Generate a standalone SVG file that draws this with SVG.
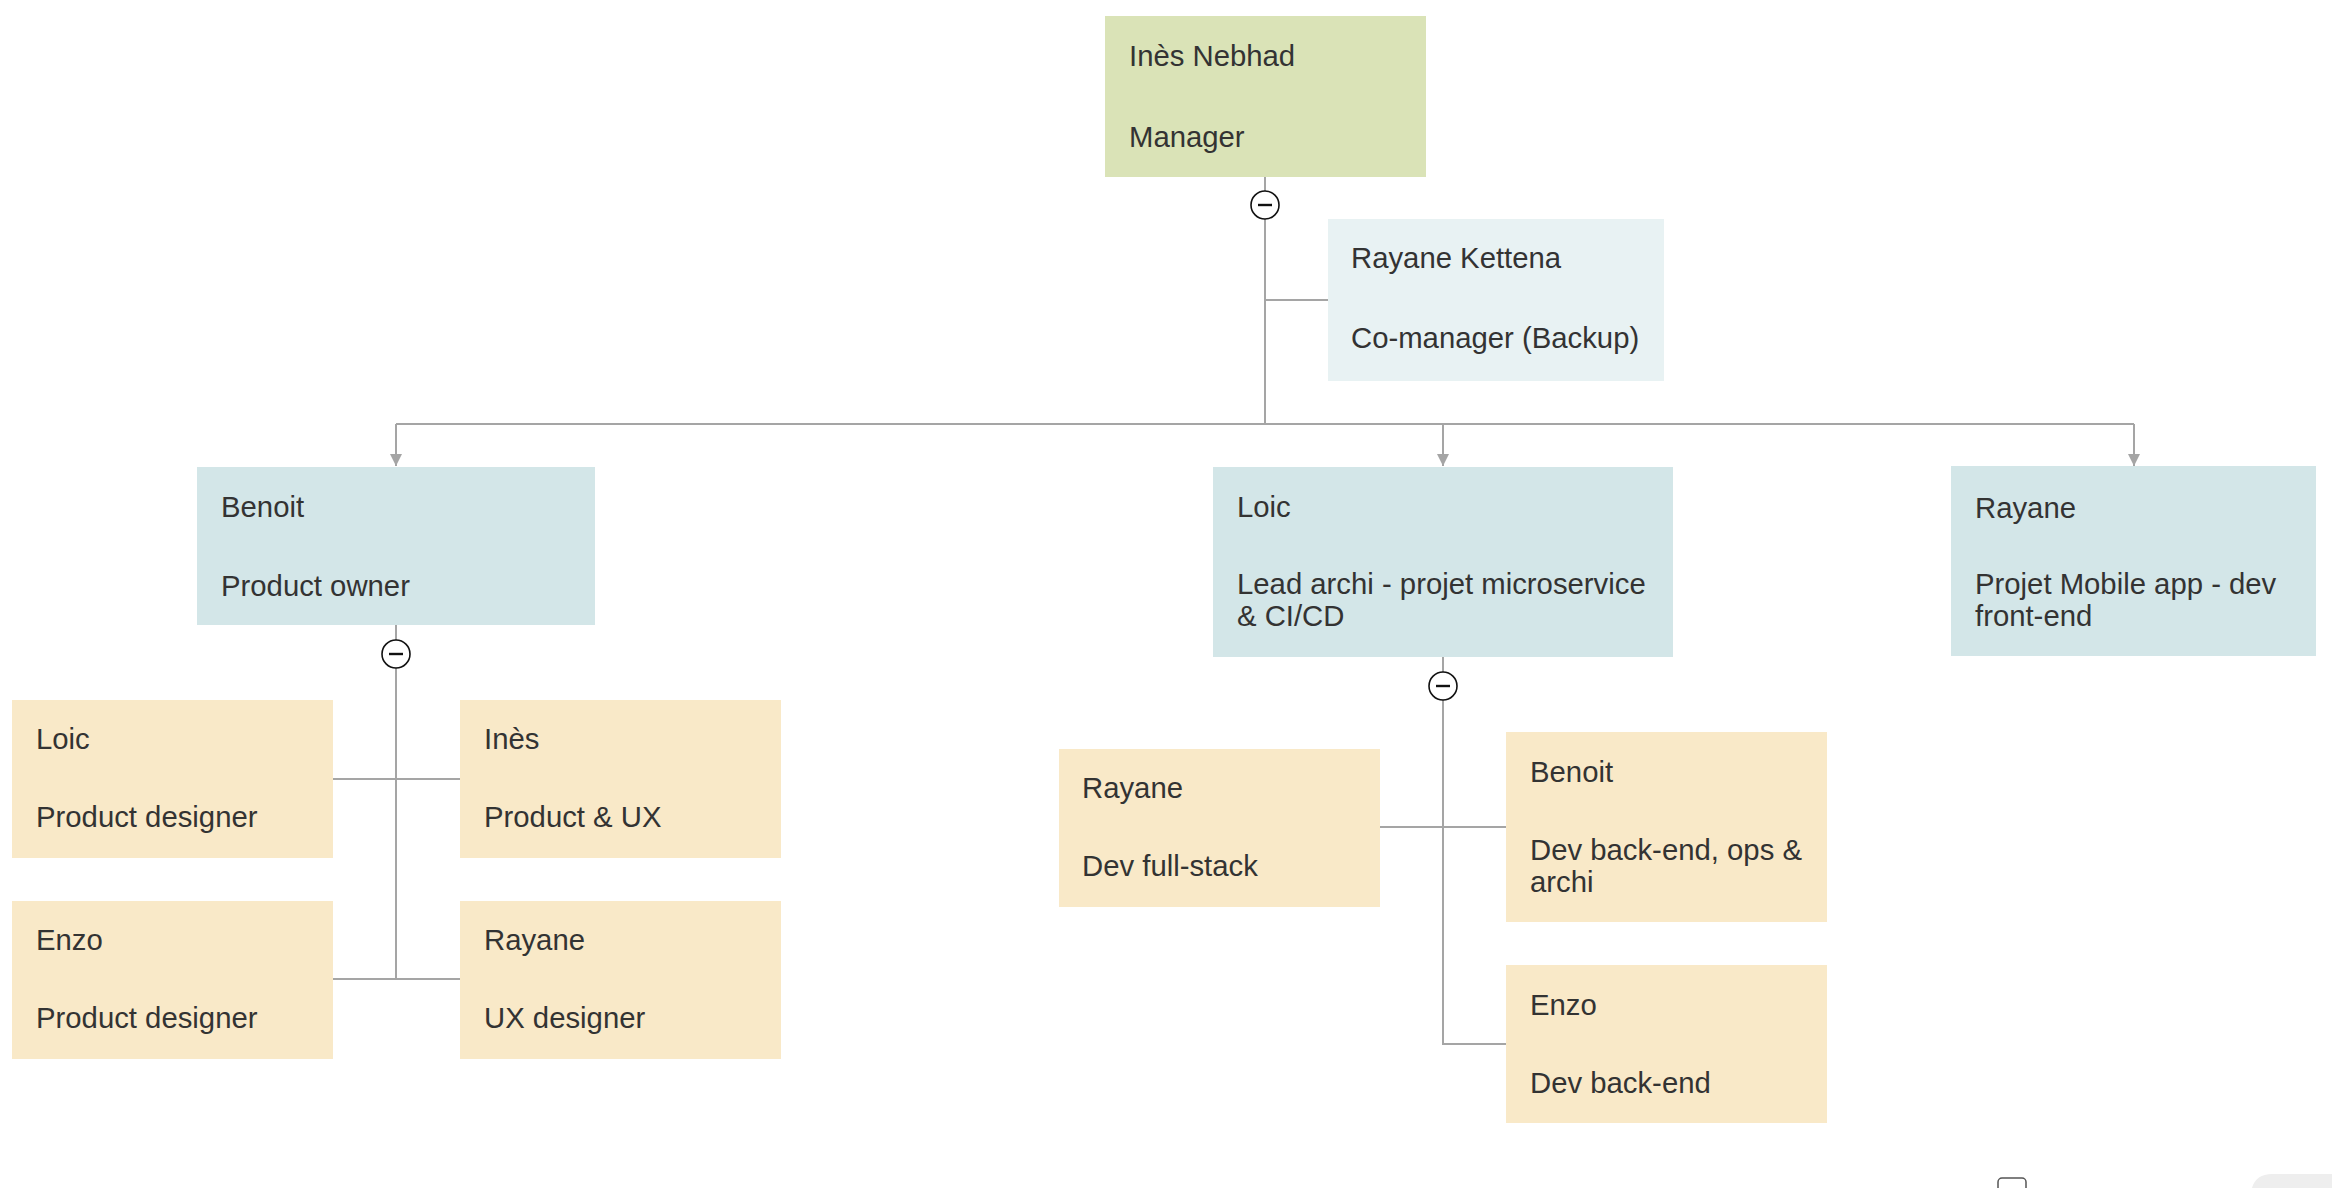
<svg xmlns="http://www.w3.org/2000/svg" width="2332" height="1188" viewBox="0 0 2332 1188">
<defs>
<style>
.t{font-family:"Liberation Sans",Arial,Helvetica,sans-serif;font-size:29.3px;fill:#333333}
.g{fill:#dae3b7}
.lb{fill:#e8f2f3}
.b{fill:#d3e6e8}
.y{fill:#f9e9c8}
.c{fill:none;stroke:#a5a5a5;stroke-width:2}
.tog circle{fill:#ffffff;stroke:#111111;stroke-width:1.6}
.tog line{stroke:#111111;stroke-width:2.4}
</style>
<marker id="arr" markerUnits="userSpaceOnUse" viewBox="0 0 12 12" refX="12" refY="6" markerWidth="12" markerHeight="12" orient="auto">
<path d="M0,0 L12,6 L0,12 z" fill="#a5a5a5"/>
</marker>
</defs>
<rect width="2332" height="1188" fill="#ffffff"/>
<g id="connectors">
<path class="c" d="M1265,177 V424"/>
<path class="c" d="M1265,300 H1328"/>
<path class="c" d="M396,424 H2134"/>
<path class="c" d="M396,424 V466" marker-end="url(#arr)"/>
<path class="c" d="M1443,424 V466" marker-end="url(#arr)"/>
<path class="c" d="M2134,424 V466" marker-end="url(#arr)"/>
<path class="c" d="M396,625 V979"/>
<path class="c" d="M333,779 H460"/>
<path class="c" d="M333,979 H460"/>
<path class="c" d="M1443,657 V1044 H1506"/>
<path class="c" d="M1380,827 H1506"/>
</g>
<g id="toggles" class="tog">
<circle cx="1265" cy="205" r="14"/><line x1="1258" y1="205" x2="1272" y2="205"/>
<circle cx="396" cy="654" r="14"/><line x1="389" y1="654" x2="403" y2="654"/>
<circle cx="1443" cy="686" r="14"/><line x1="1436" y1="686" x2="1450" y2="686"/>
</g>
<g id="n-manager"><rect class="g" x="1105" y="16" width="321" height="161"/><text class="t" x="1129" y="66">Inès Nebhad</text><text class="t" x="1129" y="147">Manager</text></g>
<g id="n-comanager"><rect class="lb" x="1328" y="219" width="336" height="162"/><text class="t" x="1351" y="268">Rayane Kettena</text><text class="t" x="1351" y="348">Co-manager (Backup)</text></g>
<g id="n-benoit-po"><rect class="b" x="197" y="467" width="398" height="158"/><text class="t" x="221" y="517">Benoit</text><text class="t" x="221" y="596">Product owner</text></g>
<g id="n-loic-lead"><rect class="b" x="1213" y="467" width="460" height="190"/><text class="t" x="1237" y="517">Loic</text><text class="t" x="1237" y="594">Lead archi - projet microservice</text><text class="t" x="1237" y="626">&amp; CI/CD</text></g>
<g id="n-rayane-mobile"><rect class="b" x="1951" y="466" width="365" height="190"/><text class="t" x="1975" y="518">Rayane</text><text class="t" x="1975" y="594">Projet Mobile app - dev</text><text class="t" x="1975" y="626">front-end</text></g>
<g id="n-loic-pd"><rect class="y" x="12" y="700" width="321" height="158"/><text class="t" x="36" y="749">Loic</text><text class="t" x="36" y="827">Product designer</text></g>
<g id="n-ines-ux"><rect class="y" x="460" y="700" width="321" height="158"/><text class="t" x="484" y="749">Inès</text><text class="t" x="484" y="827">Product &amp; UX</text></g>
<g id="n-enzo-pd"><rect class="y" x="12" y="901" width="321" height="158"/><text class="t" x="36" y="950">Enzo</text><text class="t" x="36" y="1028">Product designer</text></g>
<g id="n-rayane-ux"><rect class="y" x="460" y="901" width="321" height="158"/><text class="t" x="484" y="950">Rayane</text><text class="t" x="484" y="1028">UX designer</text></g>
<g id="n-rayane-fs"><rect class="y" x="1059" y="749" width="321" height="158"/><text class="t" x="1082" y="798">Rayane</text><text class="t" x="1082" y="876">Dev full-stack</text></g>
<g id="n-benoit-dev"><rect class="y" x="1506" y="732" width="321" height="190"/><text class="t" x="1530" y="782">Benoit</text><text class="t" x="1530" y="860">Dev back-end, ops &amp;</text><text class="t" x="1530" y="892">archi</text></g>
<g id="n-enzo-dev"><rect class="y" x="1506" y="965" width="321" height="158"/><text class="t" x="1530" y="1015">Enzo</text><text class="t" x="1530" y="1093">Dev back-end</text></g>
<g id="ui-bits">
<rect x="1998" y="1178" width="28" height="20" rx="4" fill="#ffffff" stroke="#555555" stroke-width="1.5"/>
<path d="M2252,1188 Q2256,1174 2272,1174 H2332 V1188 Z" fill="#eeeeee"/>
</g>
</svg>
